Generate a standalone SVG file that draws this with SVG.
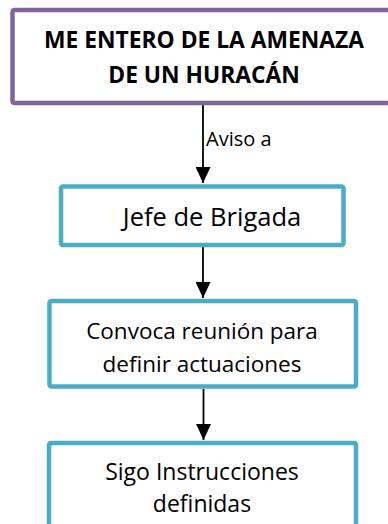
<svg xmlns="http://www.w3.org/2000/svg" width="388" height="524" viewBox="0 0 388 524">
  <style>
    .purple { fill: #ffffff; stroke: #8064A2; stroke-width: 4.5; }
    .aqua { fill: #ffffff; stroke: #4BACC6; stroke-width: 4.5; }
    .t { font-family: "Open Sans", "Noto Sans", sans-serif; fill: #000000; text-anchor: middle; }
    .title { font-weight: bold; font-size: 22.8px; }
    .conn { stroke: #000000; stroke-width: 1.8; fill: none; }
  </style>
  <defs>
    <marker id="arrow" markerUnits="userSpaceOnUse" markerWidth="16" markerHeight="15" refX="16" refY="7.5" orient="auto">
      <path d="M0,0 L16,7.5 L0,15 Z" fill="#000000"/>
    </marker>
  </defs>
  <rect width="388" height="524" fill="#ffffff"/>

  <g id="connectors">
    <line class="conn" x1="203" y1="105" x2="203" y2="183" marker-end="url(#arrow)"/>
    <text class="t" x="206" y="145.5" font-size="20" style="text-anchor:start">Aviso a</text>
    <line class="conn" x1="203" y1="247" x2="203" y2="298" marker-end="url(#arrow)"/>
    <line class="conn" x1="203.5" y1="389" x2="203.5" y2="440" marker-end="url(#arrow)"/>
  </g>

  <g id="node-huracan">
    <rect class="purple" x="12.5" y="10" width="390" height="93" rx="2"/>
    <text class="t title" x="204" y="48">ME ENTERO DE LA AMENAZA</text>
    <text class="t title" x="204" y="83">DE UN HURACÁN</text>
  </g>

  <g id="node-jefe">
    <rect class="aqua" x="61" y="186.5" width="282.5" height="58.5" rx="2"/>
    <text class="t" x="212" y="226" font-size="25.5">Jefe de Brigada</text>
  </g>

  <g id="node-convoca">
    <rect class="aqua" x="49.5" y="301" width="306.5" height="85.5" rx="2"/>
    <text class="t" x="202" y="338.5" font-size="22.5">Convoca reunión para</text>
    <text class="t" x="202" y="371.5" font-size="22.5">definir actuaciones</text>
  </g>

  <g id="node-sigo">
    <rect class="aqua" x="49" y="443" width="307" height="100" rx="2"/>
    <text class="t" x="202" y="480" font-size="23">Sigo Instrucciones</text>
    <text class="t" x="202" y="511.5" font-size="23">definidas</text>
  </g>
</svg>
